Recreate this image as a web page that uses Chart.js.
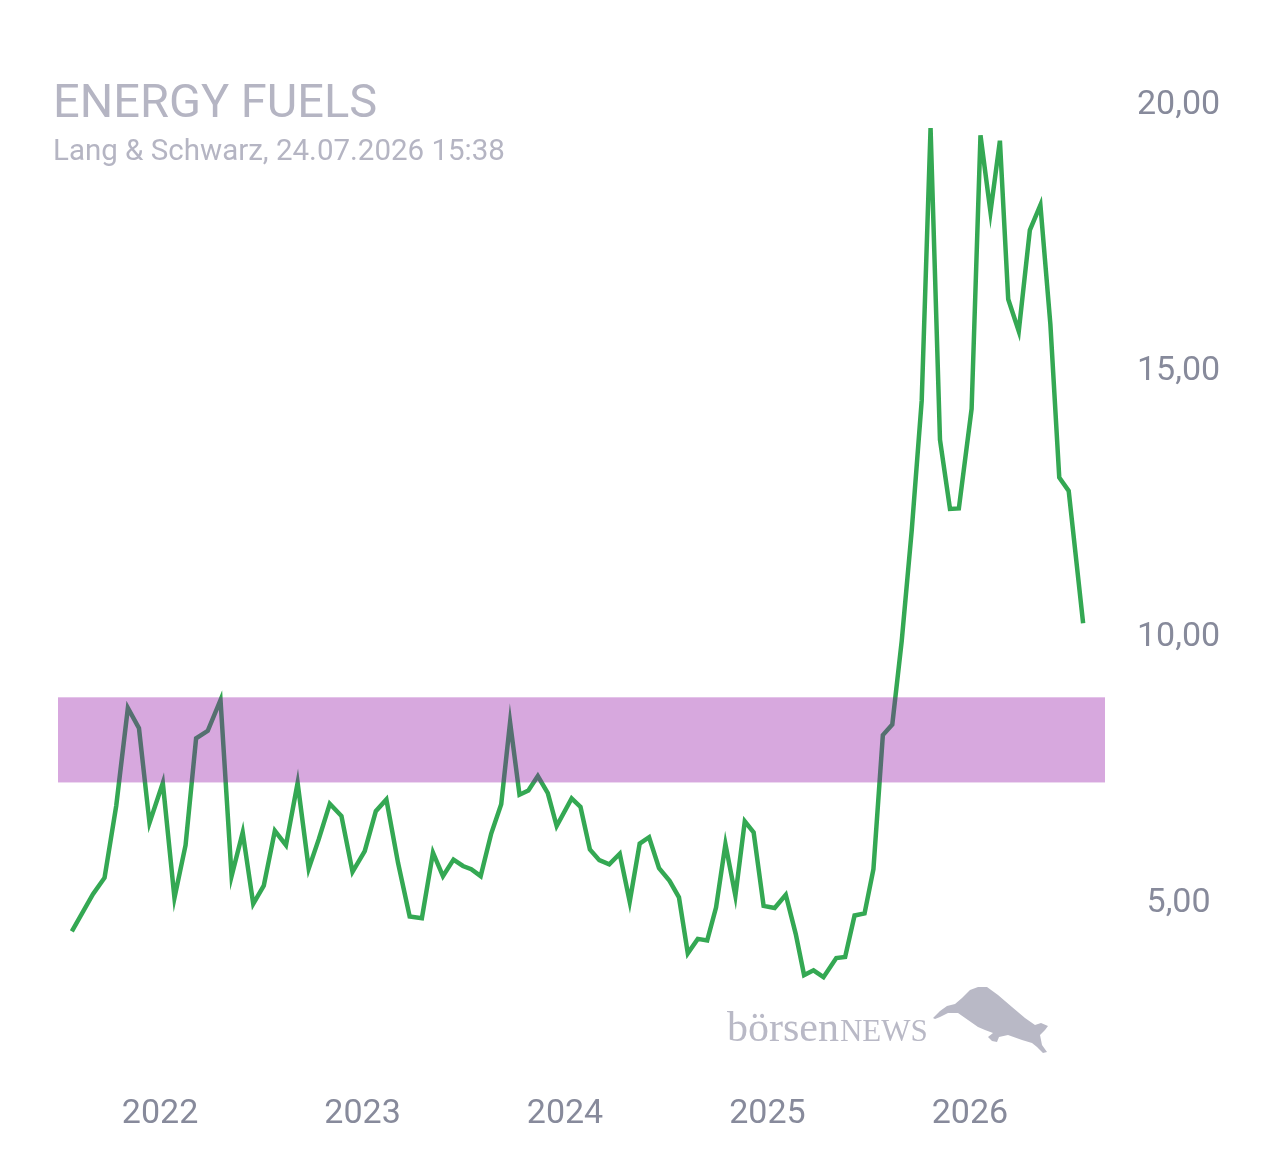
<!DOCTYPE html>
<html>
<head>
<meta charset="utf-8">
<script src="https://cdn.jsdelivr.net/npm/chart.js@4.4.1/dist/chart.umd.min.js"></script>
<style>
  html, body { margin: 0; padding: 0; background: #fff; }
  #wrap { position: relative; width: 1280px; height: 1170px; }
</style>
</head>
<body>
<div id="wrap"><canvas id="chart" width="1280" height="1170"></canvas></div>
<script>
// Price data
const dates = [
  "2021-07-26", "2021-09-02", "2021-09-23", "2021-10-14", "2021-11-04", "2021-11-24", "2021-12-13",
  "2022-01-06", "2022-01-27", "2022-02-16", "2022-03-07", "2022-03-28", "2022-04-20", "2022-05-10", "2022-05-30", "2022-06-18",
  "2022-07-07", "2022-07-27", "2022-08-16", "2022-09-06", "2022-09-26", "2022-10-14", "2022-11-03", "2022-11-24", "2022-12-14",
  "2023-01-05", "2023-01-25", "2023-02-13", "2023-03-06", "2023-03-27", "2023-04-18", "2023-05-08", "2023-05-26", "2023-06-14", "2023-07-01",
  "2023-07-16", "2023-08-02", "2023-08-21", "2023-09-08", "2023-09-24", "2023-10-11", "2023-10-27", "2023-11-13", "2023-12-01", "2023-12-17",
  "2024-01-13", "2024-01-29", "2024-02-15", "2024-03-03", "2024-03-21", "2024-04-09", "2024-04-27", "2024-05-15", "2024-06-01", "2024-06-19", "2024-07-08",
  "2024-07-25", "2024-08-10", "2024-08-28", "2024-09-14", "2024-09-30", "2024-10-17", "2024-11-04", "2024-11-21", "2024-12-07", "2024-12-25",
  "2025-01-14", "2025-02-03", "2025-02-21", "2025-03-08", "2025-03-25", "2025-04-12", "2025-05-05", "2025-05-21", "2025-06-07", "2025-06-25",
  "2025-07-11", "2025-07-28", "2025-08-14", "2025-08-31", "2025-09-18", "2025-10-06", "2025-10-22", "2025-11-08", "2025-11-26", "2025-12-12",
  "2026-01-04", "2026-01-20", "2026-02-07", "2026-02-24", "2026-03-11", "2026-03-30", "2026-04-19", "2026-05-08", "2026-05-26", "2026-06-11",
  "2026-06-28", "2026-07-24"
];
const prices = [
  4.48, 5.18, 5.49, 6.84, 8.68, 8.30, 6.52,
  7.27, 5.11, 6.10, 8.11, 8.25, 8.83, 5.52, 6.34, 5.00,
  5.34, 6.37, 6.10, 7.27, 5.66, 6.21, 6.88, 6.65, 5.60,
  5.99, 6.74, 6.96, 5.77, 4.76, 4.73, 5.96, 5.52, 5.83, 5.71,
  5.65, 5.52, 6.32, 6.87, 8.41, 7.05, 7.13, 7.40, 7.08, 6.46,
  6.98, 6.82, 6.02, 5.82, 5.74, 5.94, 5.04, 6.13, 6.25, 5.67, 5.43,
  5.12, 4.07, 4.34, 4.31, 4.93, 6.12, 5.15, 6.55, 6.34, 4.96,
  4.92, 5.17, 4.43, 3.66, 3.75, 3.62, 3.98, 4.00, 4.78, 4.82,
  5.65, 8.17, 8.37, 9.94, 12.01, 14.45, 19.58, 13.72, 12.42, 12.43,
  14.30, 19.44, 18.00, 19.34, 16.36, 15.76, 17.66, 18.13, 15.89, 13.01,
  12.76, 10.27
];
const xTicks = [2022, 2023, 2024, 2025, 2026];
const yTicks = [5, 10, 15, 20];
const bandRange = [7.28, 8.88]; // purple zone
const title = "ENERGY FUELS";
const subtitle = "Lang & Schwarz, 24.07.2026 15:38";
const watermark = ["börsen", "NEWS"];

const labelColor = "#878a9b";

// date string -> fractional year for the linear x axis
function toYear(s) {
  const d = Date.parse(s + "T00:00:00Z");
  const y = Number(s.slice(0, 4));
  const start = Date.UTC(y, 0, 1);
  return y + (d - start) / (Date.UTC(y + 1, 0, 1) - start);
}

// Translucent band drawn over the line
const bandPlugin = {
  id: "band",
  afterDatasetsDraw(chart) {
    const { ctx, chartArea, scales: { y } } = chart;
    const top = y.getPixelForValue(bandRange[1]);
    const bottom = y.getPixelForValue(bandRange[0]);
    ctx.save();
    ctx.fillStyle = "rgba(144, 14, 164, 0.36)";
    ctx.fillRect(chartArea.left, top, chartArea.right - chartArea.left, bottom - top);
    ctx.restore();
  }
};

// Heading and watermark
const decoPlugin = {
  id: "deco",
  beforeDatasetsDraw(chart) {
    const ctx = chart.ctx;
    ctx.save();
    ctx.fillStyle = "#b9b9c6";
    ctx.textBaseline = "alphabetic";
    ctx.font = "42px 'Liberation Serif', 'DejaVu Serif', serif";
    ctx.fillText(watermark[0], 727, 1041);
    const w = ctx.measureText(watermark[0]).width;
    ctx.font = "31px 'Liberation Serif', 'DejaVu Serif', serif";
    ctx.fillText(watermark[1], 727 + w + 1, 1041);

    // rough bull silhouette
    const bull = [
      [933, 1018], [940, 1011], [947, 1006], [955, 1004], [962, 998], [970, 990], [978, 987],
      [987, 987], [998, 995], [1012, 1007], [1025, 1018], [1035, 1025], [1041, 1023],
      [1048, 1026], [1045, 1030], [1040, 1035], [1042, 1045], [1047, 1052], [1043, 1053],
      [1037, 1047], [1032, 1043], [1022, 1040], [1008, 1035], [999, 1037], [997, 1042],
      [992, 1041], [988, 1037], [993, 1033], [985, 1030], [978, 1027], [968, 1020],
      [958, 1013], [948, 1013], [940, 1017], [935, 1019]
    ];
    ctx.beginPath();
    bull.forEach(([px, py], i) => (i ? ctx.lineTo(px, py) : ctx.moveTo(px, py)));
    ctx.closePath();
    ctx.fill();
    ctx.restore();
  },
  afterDraw(chart) {
    const ctx = chart.ctx;
    ctx.save();
    ctx.fillStyle = "#b5b5c3";
    ctx.textBaseline = "alphabetic";
    ctx.font = "47px Roboto";
    ctx.fillText(title, 53, 117);
    ctx.font = "29.5px Roboto";
    ctx.fillText(subtitle, 53, 160);
    ctx.restore();
  }
};

const ctx = document.getElementById("chart").getContext("2d");
new Chart(ctx, {
  type: "line",
  data: {
    datasets: [{
      data: dates.map((d, i) => ({ x: toYear(d), y: prices[i] })),
      borderColor: "#34a853",
      borderWidth: 4.5,
      pointRadius: 0,
      tension: 0,
      fill: false
    }]
  },
  options: {
    responsive: false,
    animation: false,
    layout: { padding: { left: 58, top: 48.6, right: 0, bottom: 0 } },
    plugins: { legend: { display: false }, tooltip: { enabled: false } },
    scales: {
      x: {
        type: "linear",
        min: 2021.496,
        max: 2026.667,
        grid: { display: false, drawTicks: false },
        border: { display: false },
        afterBuildTicks: (s) => { s.ticks = xTicks.map((v) => ({ value: v })); },
        afterFit: (s) => { s.height = 80; },
        ticks: {
          padding: 4,
          color: labelColor,
          autoSkip: false,
          maxRotation: 0,
          font: { family: "Roboto", size: 34 },
          callback: (v) => String(v)
        }
      },
      y: {
        position: "right",
        min: 1.5,
        max: 21,
        grid: { display: false, drawTicks: false },
        border: { display: false },
        afterBuildTicks: (s) => { s.ticks = yTicks.map((v) => ({ value: v })); },
        afterFit: (s) => { s.width = 175; },
        ticks: {
          crossAlign: "center",
          padding: 32,
          color: labelColor,
          font: { family: "Roboto", size: 34 },
          callback: (v) => v.toLocaleString("de-DE", { minimumFractionDigits: 2, maximumFractionDigits: 2 })
        }
      }
    }
  },
  plugins: [bandPlugin, decoPlugin]
});
</script>
</body>
</html>
